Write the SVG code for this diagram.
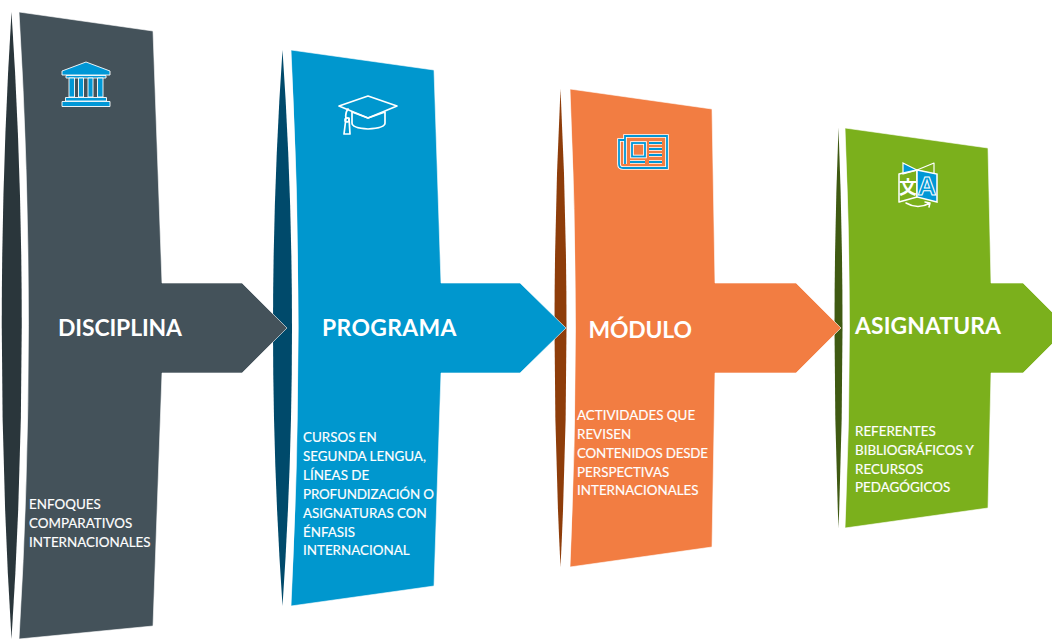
<svg xmlns="http://www.w3.org/2000/svg" width="1052" height="639" viewBox="0 0 1052 639">
<style>
text{font-family:"Lato","Carlito","Liberation Sans",sans-serif;fill:#fff}
.t{font-size:22.9px;font-weight:700}
.b{font-size:13.4px;font-weight:400;stroke:#fff;stroke-width:.15}
.body{stroke:#fff;stroke-width:1;stroke-opacity:.6}
.ic{fill:none;stroke:#fff;stroke-linejoin:round;stroke-linecap:round}
.blue{fill:#0097d6;stroke:#fff;stroke-linejoin:miter}
.halo{fill:none;stroke:#fff;stroke-width:3.6;stroke-linecap:butt}
.ink{fill:none;stroke:#0097d6;stroke-width:1.8;stroke-linecap:butt}
</style>
<rect width="1052" height="639" fill="#fff"/>
<g id="node-asignatura">
<path fill="#3f5a12" d="M838.500 128Q830.500 328 838.500 528Q846.500 328 838.500 128Z"/>
<path class="body" fill="#7bb01c" d="M845 128L988 148L991 283H1023L1068 328L1023 373H991L988 508L845 528Q854 328 845 128Z"/>
<g>
<path class="blue" stroke-width="1.200" d="M903 163L917 170L903 174Z"/>
<path class="ic" stroke-width="1.200" d="M934 163L917 170L934 174Z"/>
<path class="ic" stroke-width="1.500" d="M899 174L917 170V197L899 202Z"/>
<path class="blue" stroke-width="1.500" d="M917 170L937 174V202L917 197Z"/>
<text x="908" y="194" text-anchor="middle" style="font-family:'Noto Sans CJK JP',sans-serif;font-size:18px;font-weight:700">文</text>
<text x="927" y="195" text-anchor="middle" style="font-family:'Liberation Sans',sans-serif;font-size:26px;font-weight:700;fill:#0097d6;stroke:#fff;stroke-width:1">A</text>
<path class="ic" stroke-width="1.500" d="M906 203Q918 210 930 203M925 202L930 203L929 207"/>
</g>
<text class="t" x="855" y="334" textLength="146">ASIGNATURA</text>
<text class="b"><tspan x="855" y="436">REFERENTES</tspan><tspan x="855" y="455">BIBLIOGRÁFICOS Y</tspan><tspan x="855" y="474">RECURSOS</tspan><tspan x="855" y="492">PEDAGÓGICOS</tspan></text>
</g>
<g id="node-modulo">
<path fill="#8e3d0a" d="M560.500 89Q548.500 328 560.500 567Q572.500 328 560.500 89Z"/>
<path class="body" fill="#f27d42" d="M570 89L712 109L715 283H796L841 328L796 373H715L712 547L570 567Q581 328 570 89Z"/>
<g>
<path class="halo" d="M625 140V136H667V168H623Q619 168 619 164V140H625V164"/>
<path class="ink" d="M625 140V136H667V168H623Q619 168 619 164V140H625V164"/>
<rect x="632" y="143" width="13" height="13.500" class="halo"/>
<rect x="632" y="143" width="13" height="13.500" class="ink"/>
<path class="halo" d="M649 143H662M649 149H662M649 155H662M649 162H662M630 162H645"/>
<path class="ink" d="M649 143H662M649 149H662M649 155H662M649 162H662M630 162H645"/>
</g>
<text class="t" x="588.500" y="338" textLength="103.500">MÓDULO</text>
<text class="b"><tspan x="577" y="420">ACTIVIDADES QUE</tspan><tspan x="577" y="439">REVISEN</tspan></text>
<text class="b" x="577" y="458" textLength="131">CONTENIDOS DESDE</text>
<text class="b"><tspan x="577" y="477">PERSPECTIVAS</tspan><tspan x="577" y="495">INTERNACIONALES</tspan></text>
</g>
<g id="node-programa">
<path fill="#004a6b" d="M282.500 50Q263.500 328 282.500 606Q301.500 328 282.500 50Z"/>
<path class="body" fill="#0097ce" d="M291 50L434 70L441 283H520L566 328L520 373H441L434 586L291 606Q305.500 328 291 50Z"/>
<g class="ic" stroke-width="1.700">
<path d="M368 96L397 106L368 118L339 106Z"/>
<path d="M352 112V123Q352 128 368 129Q385 128 385 123V112L368 118Z"/>
<path d="M348 109Q345 113 346 118"/>
<path d="M346 118L344 134H350L349 118Z"/>
<circle cx="347" cy="120" r="2"/>
</g>
<text class="t" x="322" y="336" textLength="134.500">PROGRAMA</text>
<text class="b"><tspan x="303" y="442">CURSOS EN</tspan><tspan x="303" y="461">SEGUNDA LENGUA,</tspan><tspan x="303" y="480">LÍNEAS DE</tspan></text>
<text class="b" x="303" y="499" textLength="131">PROFUNDIZACIÓN O</text>
<text class="b"><tspan x="303" y="518">ASIGNATURAS CON</tspan><tspan x="303" y="537">ÉNFASIS</tspan><tspan x="303" y="555">INTERNACIONAL</tspan></text>
</g>
<g id="node-disciplina">
<path fill="#2a363b" d="M11.500 12Q-8 325 11.500 639Q32 325 11.500 12Z"/>
<path class="body" fill="#44525a" d="M19 12L153 31L162 283H242L287 328L242 373H162L153 626L19 639Q38 325 19 12Z"/>
<g>
<path class="blue" stroke-width=".9" d="M86 62L110 71V75H62V71Z"/>
<path class="blue" stroke-width=".9" d="M66 75.500H106V78H66Z"/>
<path class="blue" stroke-width=".9" d="M69 78H74.500V97H69ZM78.500 78H83.500V97H78.500ZM88 78H93V97H88ZM97.500 78H103V97H97.500Z"/>
<path class="blue" stroke-width=".9" d="M65.500 97.500H106.500V101H65.500Z"/>
<path class="blue" stroke-width=".9" d="M62 101.500H110V106.500H62Z"/>
</g>
<text class="t" x="58" y="336" textLength="124">DISCIPLINA</text>
<text class="b"><tspan x="29" y="509">ENFOQUES</tspan><tspan x="29" y="528">COMPARATIVOS</tspan><tspan x="29" y="547">INTERNACIONALES</tspan></text>
</g>
</svg>
